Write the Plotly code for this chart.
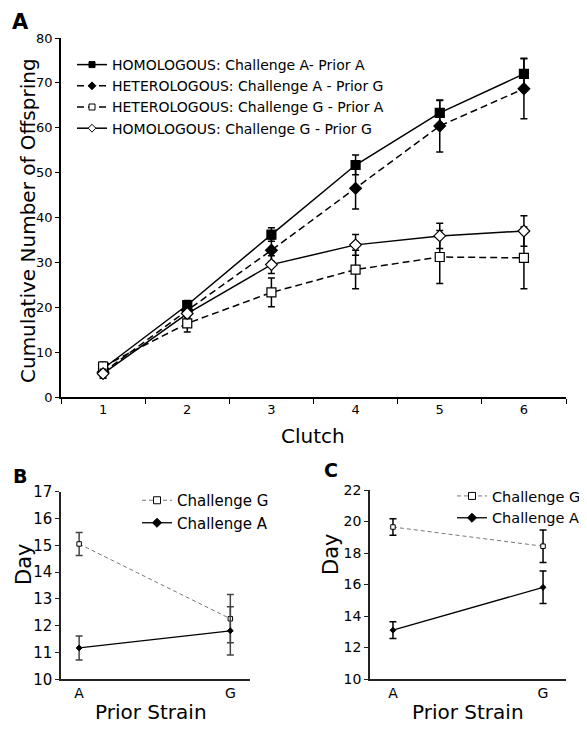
import plotly.graph_objects as go

# ---------------- Panel A data ----------------
clutch = [1, 2, 3, 4, 5, 6]
homo_AA = [6.3, 20.5, 36.2, 51.7, 63.3, 72.0]
homo_AA_err = [1.0, 1.0, 1.5, 2.2, 2.8, 3.5]
hetero_AG = [5.5, 19.3, 32.7, 46.5, 60.4, 68.7]
hetero_AG_err = [1.0, 1.0, 2.5, 4.6, 5.8, 6.7]
hetero_GA = [6.8, 16.4, 23.3, 28.4, 31.2, 31.0]
hetero_GA_err = [1.0, 1.9, 3.2, 4.3, 5.9, 6.9]
homo_GG = [5.2, 18.6, 29.5, 33.9, 35.9, 37.0]
homo_GG_err = [1.0, 1.0, 2.0, 2.3, 2.8, 3.4]
names_A = ["HOMOLOGOUS: Challenge A- Prior A",
           "HETEROLOGOUS: Challenge A - Prior G",
           "HETEROLOGOUS: Challenge G - Prior A",
           "HOMOLOGOUS: Challenge G - Prior G"]
yticks_A = [0, 10, 20, 30, 40, 50, 60, 70, 80]

# ---------------- Panel B data ----------------
prior = ["A", "G"]
B_chG = [15.05, 12.26]
B_chG_err = [0.43, 0.90]
B_chA = [11.17, 11.81]
B_chA_err = [0.45, 0.90]
yticks_B = [10, 11, 12, 13, 14, 15, 16, 17]

# ---------------- Panel C data ----------------
C_chG = [19.65, 18.43]
C_chG_err = [0.53, 1.03]
C_chA = [13.1, 15.82]
C_chA_err = [0.53, 1.03]
yticks_C = [10, 12, 14, 16, 18, 20, 22]

FONT = "DejaVu Sans"
OFF = 8                      # page body margin
W, H = 587 - OFF, 730 - OFF  # figure size so page fits window


def px(x):   # reference page x -> paper fraction
    return (x - OFF) / W


def py(y):   # reference page y -> paper fraction
    return 1 - (y - OFF) / H


fig = go.Figure()


def err(vals, color="black", width=1.5, cap=3.5):
    return dict(type="data", array=vals, visible=True, color=color,
                thickness=width, width=cap)


dash_A = "7px,4px"
styles_A = [
    dict(line=dict(color="black", width=1.5), sym="square", fill="black"),
    dict(line=dict(color="black", width=1.5, dash=dash_A), sym="diamond", fill="black"),
    dict(line=dict(color="black", width=1.5, dash=dash_A), sym="square", fill="white"),
    dict(line=dict(color="black", width=1.5), sym="diamond", fill="white"),
]
series_A = [(homo_AA, homo_AA_err), (hetero_AG, hetero_AG_err),
            (hetero_GA, hetero_GA_err), (homo_GG, homo_GG_err)]

for (vals, errs), st, nm in zip(series_A, styles_A, names_A):
    fig.add_trace(go.Scatter(
        x=clutch, y=vals, name=nm, mode="lines+markers", line=st["line"],
        marker=dict(symbol=st["sym"], size=9, color=st["fill"],
                    line=dict(color="black", width=1.2)),
        error_y=err(errs), xaxis="x", yaxis="y", showlegend=False))
    # legend entry (smaller symbols, as in the original key)
    fig.add_trace(go.Scatter(
        x=[None], y=[None], name=nm, mode="lines+markers", line=st["line"],
        marker=dict(symbol=st["sym"], size=6, color=st["fill"],
                    line=dict(color="black", width=1)),
        xaxis="x", yaxis="y", legend="legend"))

small_styles = [
    ("Challenge G", dict(color="#777777", width=1, dash="4px,3px"), "square", "white"),
    ("Challenge A", dict(color="black", width=1.3), "diamond", "black"),
]
panels = [("x2", "y2", "legend2", [B_chG, B_chA], [B_chG_err, B_chA_err], "#444444"),
          ("x3", "y3", "legend3", [C_chG, C_chA], [C_chG_err, C_chA_err], "black")]
for xa, ya, lg, vals_list, err_list, ecol in panels:
    for (nm, ln, sym, fill), vals, errs in zip(small_styles, vals_list, err_list):
        fig.add_trace(go.Scatter(
            x=prior, y=vals, name=nm, mode="lines+markers", line=ln,
            marker=dict(symbol=sym, size=4.5, color=fill, line=dict(color="black", width=1)),
            error_y=err(errs, color=ecol), xaxis=xa, yaxis=ya, showlegend=False))
        fig.add_trace(go.Scatter(
            x=[None], y=[None], name=nm, mode="lines+markers", line=ln,
            marker=dict(symbol=sym, size=7, color=fill, line=dict(color="black", width=1)),
            xaxis=xa, yaxis=ya, legend=lg))


def axis(size, color="black", **kw):
    d = dict(showgrid=False, zeroline=False, showline=True, linecolor=color,
             linewidth=1.5, tickcolor=color, tickwidth=1.2,
             tickfont=dict(family=FONT, size=size, color="black"))
    d.update(kw)
    return d


fig.update_layout(
    width=W, height=H, margin=dict(l=0, r=0, t=0, b=0, autoexpand=False),
    paper_bgcolor="white", plot_bgcolor="white",
    font=dict(family=FONT, color="black"),
    xaxis=axis(13, domain=[px(61), px(566)], range=[0.5, 6.5], anchor="y",
               tickvals=clutch, ticktext=[str(c) for c in clutch], ticks="",
               minor=dict(tickvals=[0.5, 1.5, 2.5, 3.5, 4.5, 5.5, 6.5], ticks="outside",
                          ticklen=5, tickcolor="black", tickwidth=1.2)),
    yaxis=axis(13, domain=[py(397), py(38)], range=[0, 80], anchor="x",
               tickvals=yticks_A, ticks="outside", ticklen=4),
    xaxis2=axis(14, "#222222", domain=[px(61), px(250)], range=[-0.12, 1.13],
                anchor="y2", type="category", ticks=""),
    yaxis2=axis(15, "#222222", domain=[py(679.3), py(491.7)], range=[10, 17],
                anchor="x2", tickvals=yticks_B, ticks="outside", ticklen=4),
    xaxis3=axis(14, "#222222", domain=[px(370), px(566)], range=[-0.153, 1.153],
                anchor="y3", type="category", ticks=""),
    yaxis3=axis(14, "#222222", domain=[py(679), py(490)], range=[10, 22],
                anchor="x3", tickvals=yticks_C, ticks="outside", ticklen=4),
    legend=dict(x=px(72), y=py(49), xanchor="left", yanchor="top",
                font=dict(family=FONT, size=14, color="black"),
                bgcolor="rgba(0,0,0,0)", tracegroupgap=0, itemwidth=30),
    legend2=dict(x=px(137), y=py(484), xanchor="left", yanchor="top",
                 font=dict(family=FONT, size=15, color="black"),
                 bgcolor="rgba(0,0,0,0)", itemwidth=30),
    legend3=dict(x=px(452), y=py(480), xanchor="left", yanchor="top",
                 font=dict(family=FONT, size=14.5, color="black"),
                 bgcolor="rgba(0,0,0,0)", itemwidth=30),
    showlegend=True,
)


def ann(text, x, y, size, bold=False, angle=0):
    fig.add_annotation(text=f"<b>{text}</b>" if bold else text, x=px(x), y=py(y),
                       xref="paper", yref="paper", showarrow=False, textangle=angle,
                       font=dict(family=FONT, size=size, color="black"),
                       xanchor="center", yanchor="middle")


ann("A", 20, 22, 21, bold=True)
ann("B", 20, 476, 19, bold=True)
ann("C", 331, 470, 19, bold=True)
ann("Cumulative Number of Offspring", 28, 221, 20, angle=-90)
ann("Clutch", 313, 436, 20)
ann("Day", 24, 565, 21, angle=-90)
ann("Prior Strain", 151, 712, 20)
ann("Day", 331, 555, 21, angle=-90)
ann("Prior Strain", 468, 712, 20)

fig.write_html("out.html")
